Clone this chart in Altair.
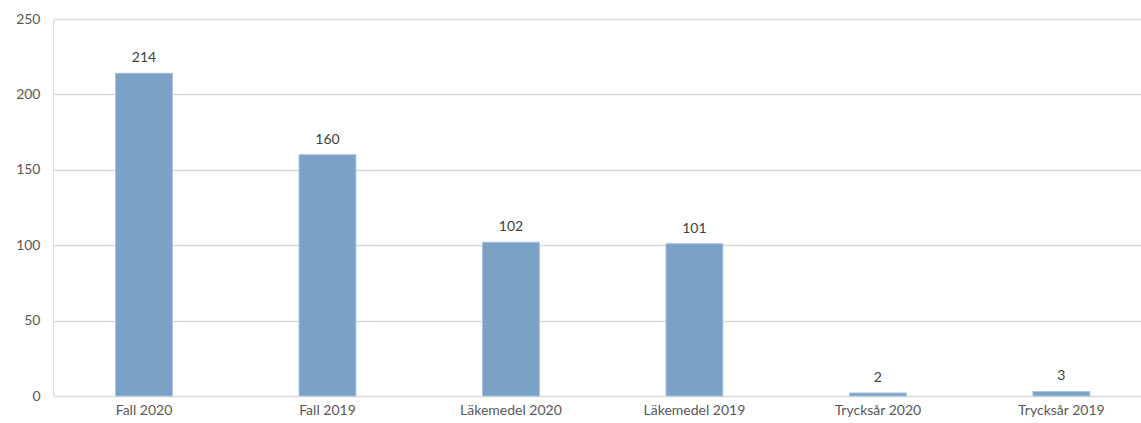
import altair as alt
import pandas as pd

categories = ["Fall 2020", "Fall 2019", "Läkemedel 2020", "Läkemedel 2019", "Trycksår 2020", "Trycksår 2019"]
values = [214, 160, 102, 101, 2, 3]

df = pd.DataFrame({"kategori": categories, "antal": values})

FONT = "Lato"

x = alt.X("kategori:N", sort=categories, title=None,
          scale=alt.Scale(paddingInner=0.69, paddingOuter=0.31, align=0.55),
          axis=alt.Axis(labelAngle=0, labelFont=FONT, labelFontSize=14, labelColor="#595959",
                        ticks=False, domain=False, labelPadding=7, grid=False))
y = alt.Y("antal:Q", title=None,
          scale=alt.Scale(domain=[0, 250], nice=False),
          axis=alt.Axis(values=[0, 50, 100, 150, 200, 250], labelFont=FONT, labelFontSize=14,
                        labelColor="#595959", ticks=False, domain=False, labelPadding=13,
                        gridColor="#d9d9d9", gridWidth=1.5))

bars = alt.Chart(df).mark_bar(color="#7ba1c7", stroke="#a8c3df", strokeWidth=1).encode(x=x, y=y)
text = alt.Chart(df).mark_text(dy=-8, font=FONT, fontSize=14, color="#404040", baseline="bottom").encode(
    x=alt.X("kategori:N", sort=categories), y="antal:Q", text="antal:Q")

chart = (bars + text).properties(
    width=1088, height=377,
    autosize=alt.AutoSizeParams(type="none"),
    padding={"left": 53, "top": 19, "right": 0, "bottom": 27},
).configure_view(stroke=None).configure(background="white")

chart.save("out.html", embed_options={"renderer": "svg", "actions": False})
